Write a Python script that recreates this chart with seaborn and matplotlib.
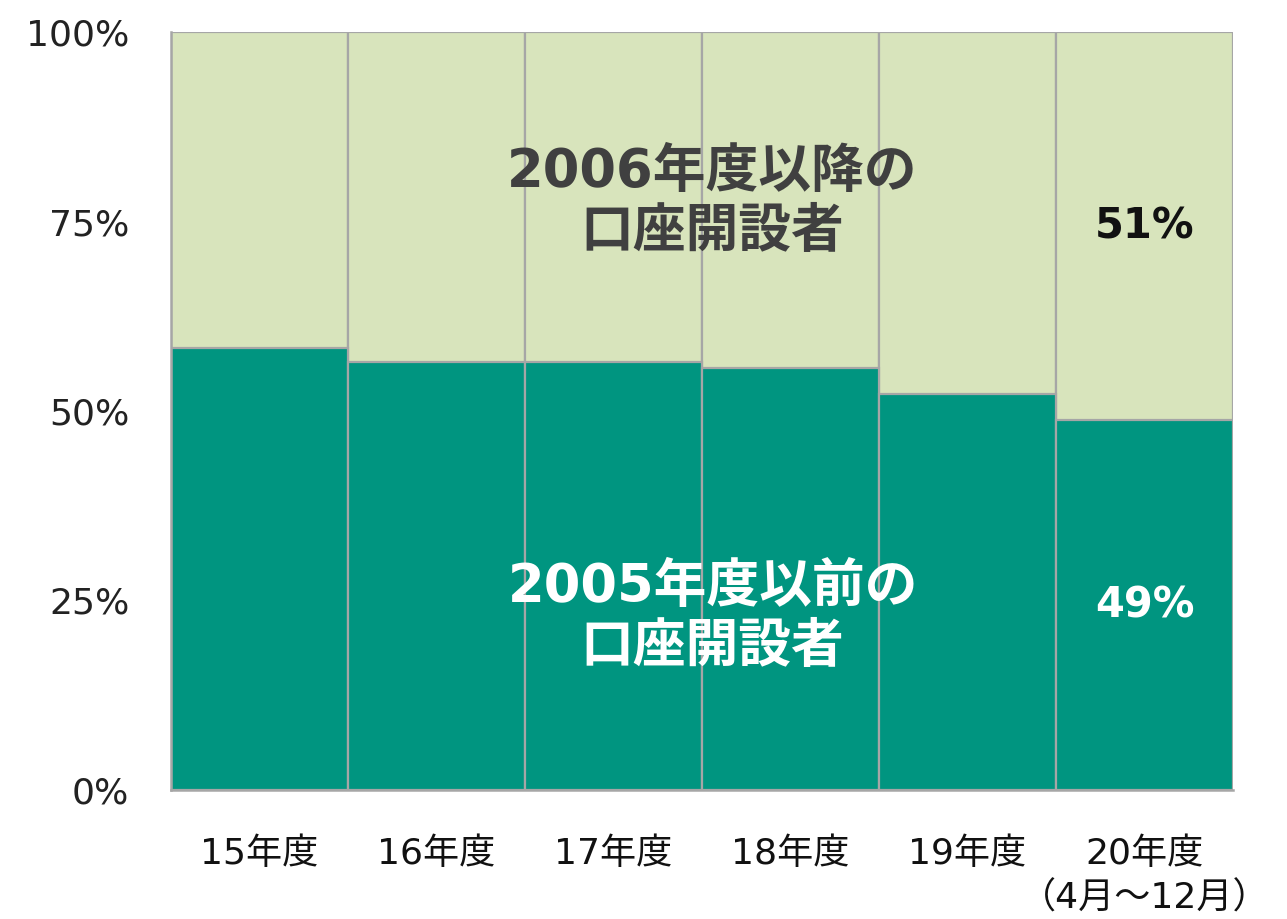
import pandas as pd
from matplotlib import pyplot as plt
import seaborn as sns

# Data
years = ["15年度", "16年度", "17年度", "18年度", "19年度", "20年度\n（4月～12月）"]
before_2005 = [58.3, 56.5, 56.5, 55.7, 52.2, 48.8]
after_2006 = [100 - v for v in before_2005]

df = pd.DataFrame({"year": years, "before": before_2005, "after": after_2006})
df["total"] = df["before"] + df["after"]

sns.set_style("white")
plt.rcParams["font.family"] = ["DejaVu Sans", "Noto Sans CJK JP"]

DARK = "#009580"
LIGHT = "#D8E4BC"
EDGE = "#A6A6A6"

fig = plt.figure(figsize=(12.87, 9.19), dpi=100)
ax = fig.add_axes([171 / 1287, 1 - 790 / 919, (1233 - 171) / 1287, (790 - 32) / 919])

# stacked: full bar in light green, lower part in dark green on top
sns.barplot(data=df, x="year", y="total", color=LIGHT, saturation=1,
            width=1.0, edgecolor=EDGE, linewidth=1.6, ax=ax)
sns.barplot(data=df, x="year", y="before", color=DARK, saturation=1,
            width=1.0, edgecolor=EDGE, linewidth=1.6, ax=ax)

ax.set_axisbelow(False)
ax.set_xlim(-0.5, len(years) - 0.5)
ax.set_ylim(0, 100)
ax.set_yticks([0, 25, 50, 75, 100])
ax.set_yticklabels(["0%", "25%", "50%", "75%", "100%"])
ax.set_xlabel("")
ax.set_ylabel("")
ax.tick_params(axis="y", direction="in", length=7, width=1.5, color=EDGE,
               pad=30, labelsize=26, labelcolor="#222222")
ax.tick_params(axis="x", length=0, pad=34, labelsize=26, labelcolor="#111111")
for lab in ax.get_xticklabels():
    lab.set_linespacing(1.35)

for side in ["top", "right"]:
    ax.spines[side].set_visible(False)
for side in ["left", "bottom"]:
    ax.spines[side].set_color(EDGE)
    ax.spines[side].set_linewidth(1.8)

# annotations
ax.text(2.56, 77.6, "2006年度以降の\n口座開設者", ha="center", va="center",
        fontsize=38, fontweight="bold", color="#404040", linespacing=1.2)
ax.text(2.56, 22.8, "2005年度以前の\n口座開設者", ha="center", va="center",
        fontsize=38, fontweight="bold", color="white", linespacing=1.2)
ax.text(5, 74.4, "51%", ha="center", va="center",
        fontsize=30, fontweight="bold", color="#111111")
ax.text(5, 24.4, "49%", ha="center", va="center",
        fontsize=30, fontweight="bold", color="white")

fig.savefig("out.png", dpi=100)
